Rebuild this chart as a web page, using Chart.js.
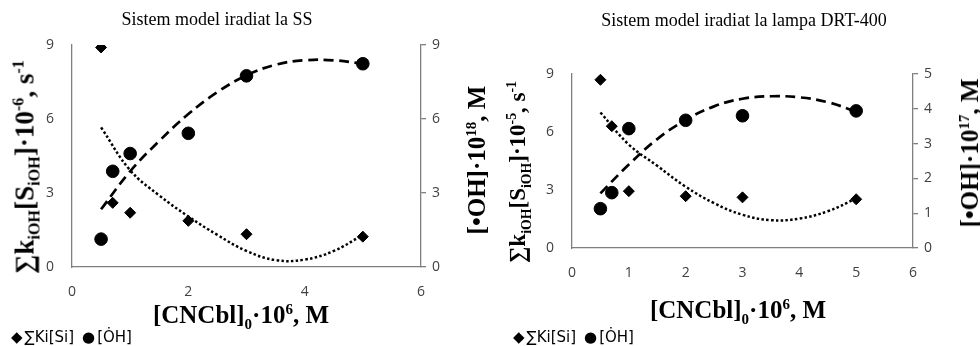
<!DOCTYPE html>
<html>
<head>
<meta charset="utf-8">
<script src="https://cdn.jsdelivr.net/npm/chart.js@4.4.0/dist/chart.umd.min.js"></script>
<style>
body { margin: 0; background: #fff; width: 980px; height: 346px; overflow: hidden; position: relative; font-family: "Liberation Serif", "Times New Roman", serif; }
canvas { position: absolute; top: 0; }
.t { position: absolute; white-space: nowrap; color: #000; transform: translate(-50%, -50%); }
.rot { transform: translate(-50%, -50%) rotate(-90deg); }
.b { font-weight: bold; }
sub, sup { font-size: 60%; line-height: 0; }
.leg { position: absolute; font-family: "DejaVu Sans", sans-serif; font-size: 15px; color: #000; white-space: nowrap; transform: translateY(-50%); }
.leg .m { font-size: 15px; margin-right: 2px; }
.leg .gap { margin-right: 8px; }
</style>
</head>
<body>
<canvas id="chartSS" width="490" height="346" style="left:0"></canvas>
<canvas id="chartDRT" width="490" height="346" style="left:490px"></canvas>

<div class="t" style="left:217px;top:19px;font-size:18px">Sistem model iradiat la SS</div>
<div class="t b rot" style="left:25px;top:167px;font-size:27px">&sum;k<sub>iOH</sub>[S<sub>iOH</sub>]&middot;10<sup>-6</sup>, s<sup>-1</sup></div>
<div class="t b rot" style="left:477px;top:160px;font-size:25px">[&bull;OH]&middot;10<sup>18</sup>, M</div>
<div class="t b" style="left:241px;top:315px;font-size:25px">[CNCbl]<sub>0</sub>&middot;10<sup>6</sup>, M</div>
<div class="leg" style="left:11px;top:337px"><span class="m">&#9670;</span><span class="gap">&sum;Ki[Si]</span><span class="m">&#9679;</span><span>[&#558;H]</span></div>

<div class="t" style="left:744px;top:20px;font-size:18px">Sistem model iradiat la lampa DRT-400</div>
<div class="t b rot" style="left:518px;top:172px;font-size:23px">&sum;k<sub>iOH</sub>[S<sub>iOH</sub>]&middot;10<sup>-5</sup>, s<sup>-1</sup></div>
<div class="t b rot" style="left:970px;top:153px;font-size:25px">[&bull;OH]&middot;10<sup>17</sup>, M</div>
<div class="t b" style="left:738px;top:310px;font-size:25px">[CNCbl]<sub>0</sub>&middot;10<sup>6</sup>, M</div>
<div class="leg" style="left:513px;top:337px"><span class="m">&#9670;</span><span class="gap">&sum;Ki[Si]</span><span class="m">&#9679;</span><span>[&#558;H]</span></div>

<script>
"use strict";

// measured concentrations, [CNCbl]0 * 1e6 M
const conc = [0.5, 0.7, 1, 2, 3, 5];

// SS irradiation
const kSS = [8.9, 2.6, 2.2, 1.87, 1.33, 1.23];
const ohSS = [1.13, 3.88, 4.6, 5.42, 7.75, 8.24];

// DRT-400 lamp
const kDRT = [8.7, 6.3, 2.94, 2.68, 2.62, 2.52];
const ohDRT = [1.13, 1.59, 3.43, 3.67, 3.8, 3.94];

// trendlines
const trendX = [0.5, 1, 1.5, 2, 2.5, 3, 3.5, 4, 4.5, 5];
const kSSTrend = [5.66, 3.92, 2.9, 2.05, 1.3, 0.65, 0.28, 0.3, 0.65, 1.3];
const ohSSTrend = [2.34, 3.88, 5.11, 6.2, 7.09, 7.77, 8.2, 8.38, 8.38, 8.24];
const kDRTTrend = [7.01, 5.35, 4.25, 3.17, 2.32, 1.72, 1.44, 1.52, 1.9, 2.56];
const ohDRTTrend = [1.57, 2.4, 3.13, 3.68, 4.07, 4.29, 4.36, 4.33, 4.19, 3.92];

function pts(xs, ys) {
    return xs.map((x, i) => ({ x: x, y: ys[i] }));
}

var tickFont = { family: "Open Sans", size: 14 };
var axisColor = "#7f7f7f";

function makeScales(xStep, y2Max, y2Step) {
    return {
        x: {
            type: "linear", min: 0, max: 6,
            ticks: { stepSize: xStep, padding: 17, color: "#404040", font: tickFont },
            grid: { display: false, drawTicks: false },
            border: { color: axisColor, width: 1.3 },
            afterFit: function (s) { s.height = 40; }
        },
        y: {
            position: "left", min: 0, max: 9,
            ticks: { stepSize: 3, padding: 18, color: "#404040", font: tickFont },
            grid: { display: false, drawTicks: false },
            border: { color: axisColor, width: 1.3 },
            afterFit: function (s) { s.width = 40; }
        },
        y2: {
            position: "right", min: 0, max: y2Max,
            ticks: { stepSize: y2Step, padding: 6, color: "#404040", font: tickFont },
            grid: { drawOnChartArea: false, drawTicks: true, tickLength: 5, color: axisColor, lineWidth: 1.3 },
            border: { color: axisColor, width: 1.3 },
            afterFit: function (s) { s.width = 40; }
        }
    };
}

function makeDatasets(k, oh, kTrend, ohTrend) {
    return [{
        label: "ΣKi[Si]",
        data: pts(conc, k),
        yAxisID: "y",
        pointStyle: "rectRot",
        pointRadius: 5.5,
        backgroundColor: "#000",
        borderColor: "#000",
        order: 1
    }, {
        label: "[ȮH]",
        data: pts(conc, oh),
        yAxisID: "y2",
        pointStyle: "circle",
        pointRadius: 6.3,
        backgroundColor: "#000",
        borderColor: "#000",
        order: 1
    }, {
        label: "poly ΣKi[Si]",
        data: pts(trendX, kTrend),
        yAxisID: "y",
        showLine: true,
        pointRadius: 0,
        tension: 0.4,
        borderColor: "#000",
        borderWidth: 2.5,
        borderDash: [2.5, 2.3],
        order: 2
    }, {
        label: "poly [ȮH]",
        data: pts(trendX, ohTrend),
        yAxisID: "y2",
        showLine: true,
        pointRadius: 0,
        tension: 0.4,
        borderColor: "#000",
        borderWidth: 2.7,
        borderDash: [10, 5.5],
        order: 2
    }];
}

var baseOptions = function (padding, scales) {
    return {
        responsive: false,
        animation: false,
        devicePixelRatio: 1,
        layout: { padding: padding },
        plugins: { legend: { display: false }, tooltip: { enabled: false } },
        scales: scales
    };
};

var ctx1 = document.getElementById("chartSS").getContext("2d");
var chartSS = new Chart(ctx1, {
    type: "scatter",
    data: { datasets: makeDatasets(kSS, ohSS, kSSTrend, ohSSTrend) },
    options: baseOptions({ left: 32, right: 29, top: 45, bottom: 39 }, makeScales(2, 9, 3))
});

var ctx2 = document.getElementById("chartDRT").getContext("2d");
var chartDRT = new Chart(ctx2, {
    type: "scatter",
    data: { datasets: makeDatasets(kDRT, ohDRT, kDRTTrend, ohDRTTrend) },
    options: baseOptions({ left: 42, right: 27, top: 74, bottom: 58 }, makeScales(1, 5, 1))
});
</script>
</body>
</html>
